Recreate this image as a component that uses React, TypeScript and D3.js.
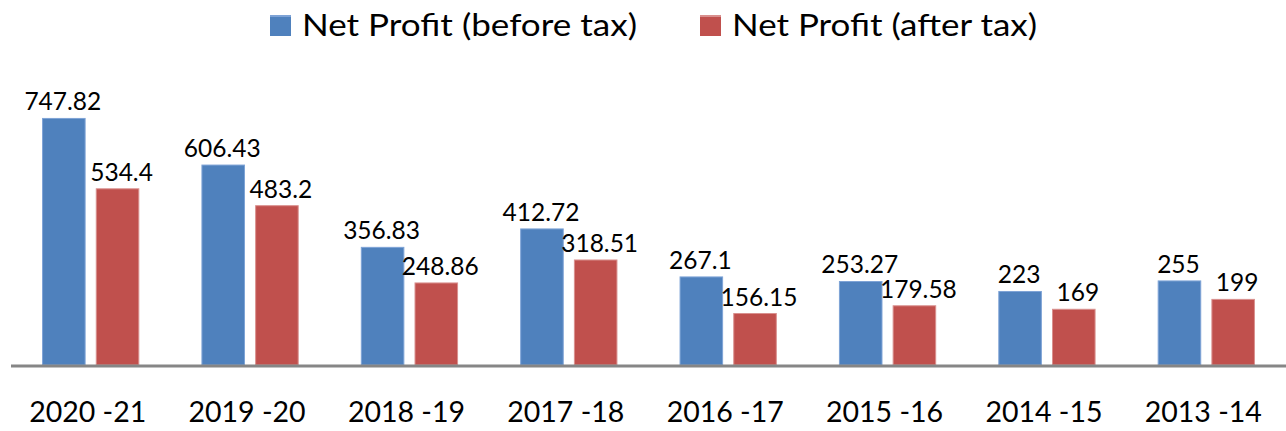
import React from "react";
import * as d3 from "d3";

const categories = ["2020 -21", "2019 -20", "2018 -19", "2017 -18", "2016 -17", "2015 -16", "2014 -15", "2013 -14"];
const beforeTax = [747.82, 606.43, 356.83, 412.72, 267.1, 253.27, 223, 255];
const afterTax = [534.4, 483.2, 248.86, 318.51, 156.15, 179.58, 169, 199];
const seriesNames = ["Net Profit (before tax)", "Net Profit (after tax)"];
const colors = ["#4F81BD", "#C0504D"];
const strokes = ["#7EA3D6", "#D9908E"];
const labelShift = [-1, 4];

const W = 1286;
const H = 431;
const FONT = "Lato, 'Open Sans', sans-serif";

export default function App() {
  const x = d3.scaleBand<string>().domain(categories).range([11, 1286]).paddingInner(0).paddingOuter(0);
  const y = d3.scaleLinear().domain([0, 800]).range([365, 365 - 800 * 0.3297]);
  const bw = x.bandwidth();
  const barW = bw * 0.267;
  const gap = bw * 0.07;
  const series = [beforeTax, afterTax];

  return (
    <svg width={W} height={H} style={{ position: "absolute", left: 0, top: 0, background: "#fff" }} fontFamily={FONT}>
      {/* legend */}
      <g>
        <rect x={270} y={15} width={21} height={21} fill={colors[0]} />
        <rect x={270} y={15} width={21} height={2} fill={strokes[0]} />
        <text x={302} y={36} fontSize={31} fill="#000" textLength={335} lengthAdjust="spacingAndGlyphs">{seriesNames[0]}</text>
        <rect x={700} y={15} width={21} height={21} fill={colors[1]} />
        <rect x={700} y={15} width={21} height={2} fill={strokes[1]} />
        <text x={732} y={36} fontSize={31} fill="#000" textLength={305} lengthAdjust="spacingAndGlyphs">{seriesNames[1]}</text>
      </g>
      {categories.map((c, i) => {
        const cx = (x(c) as number) + bw / 2;
        return (
          <g key={c}>
            {series.map((s, j) => {
              const bx = j === 0 ? cx - gap / 2 - barW : cx + gap / 2;
              const top = y(s[i]);
              return (
                <g key={j}>
                  <rect x={bx} y={top} width={barW} height={y(0) - top} fill={colors[j]} stroke={strokes[j]} strokeWidth={1} />
                  <text x={bx + barW / 2 + labelShift[j]} y={top - 8} textAnchor="middle" fontSize={24.5} fill="#000">{String(s[i])}</text>
                </g>
              );
            })}
            <text x={cx - 3} y={422} textAnchor="middle" fontSize={28.5} fill="#000">{c}</text>
          </g>
        );
      })}
      <line x1={11} x2={1286} y1={y(0) + 1} y2={y(0) + 1} stroke="#868686" strokeWidth={3} />
    </svg>
  );
}
